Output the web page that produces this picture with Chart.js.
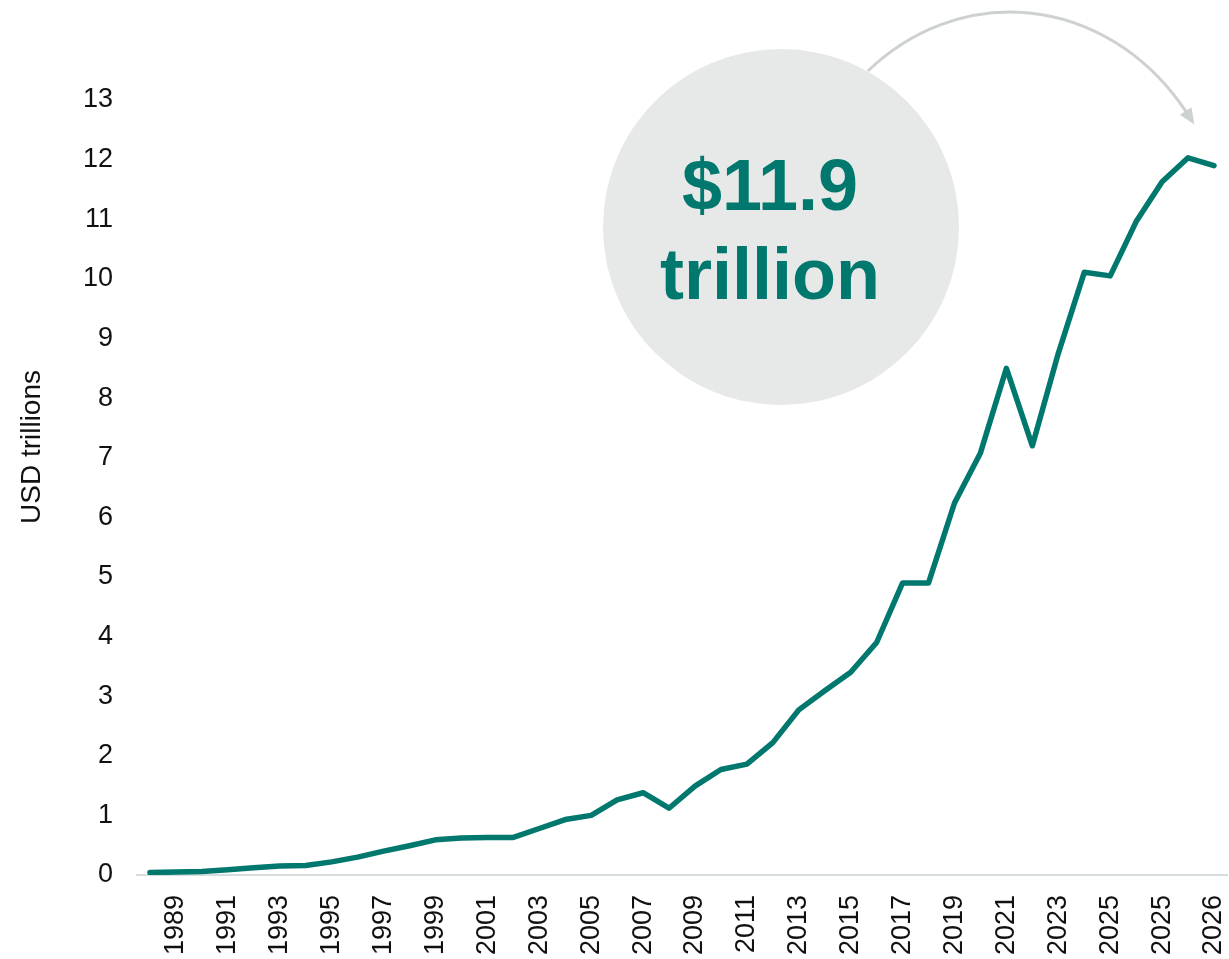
<!DOCTYPE html>
<html>
<head>
<meta charset="utf-8">
<script src="https://cdn.jsdelivr.net/npm/chart.js@4.4.1/dist/chart.umd.min.js"></script>
<style>
  html, body { margin: 0; padding: 0; background: #ffffff; }
  #wrap { width: 1229px; height: 959px; position: relative; }
</style>
</head>
<body>
<div id="wrap"><canvas id="chart"></canvas></div>
<script>
// Yearly categories; every other one is labelled on the axis
const categories = [
  '1988', '1989', '1990', '1991', '1992', '1993', '1994', '1995', '1996', '1997',
  '1998', '1999', '2000', '2001', '2002', '2003', '2004', '2005', '2006', '2007',
  '2008', '2009', '2010', '2011', '2012', '2013', '2014', '2015', '2016', '2017',
  '2018', '2019', '2020', '2021', '2022', '2023', '2024', '2025', '2025', '2025',
  '2026', '2026'
];

// Assets, USD trillions
const assets = [
  0.04, 0.05, 0.06, 0.09, 0.12, 0.15, 0.16, 0.22, 0.30, 0.40,
  0.49, 0.59, 0.62, 0.63, 0.63, 0.78, 0.93, 1.00, 1.26, 1.38,
  1.12, 1.49, 1.77, 1.86, 2.22, 2.77, 3.09, 3.40, 3.90, 4.90,
  4.90, 6.24, 7.08, 8.50, 7.20, 8.75, 10.11, 10.05, 10.96, 11.63,
  12.03, 11.90
];

const yTicks = [0, 1, 2, 3, 4, 5, 6, 7, 8, 9, 10, 11, 12, 13];

const TEAL = '#00786e';
const FONT = "'Liberation Sans', Arial, Helvetica, sans-serif";

// Grey bubble with the latest total and a curved arrow pointing at the last point
const calloutPlugin = {
  id: 'callout',
  beforeDatasetsDraw(chart) {
    const ctx = chart.ctx;
    const cx = 781, cy = 227, r = 178;
    const last = assets.length - 1;
    ctx.save();

    // elliptical arc arrow
    const ex = 1010, ey = 264, rx = 221, ry = 252;
    const a0 = -2.269, a1 = -0.64;
    ctx.strokeStyle = '#cdd1d1';
    ctx.fillStyle = '#cdd1d1';
    ctx.lineWidth = 3;
    ctx.beginPath();
    ctx.ellipse(ex, ey, rx, ry, 0, a0, a1, false);
    ctx.stroke();
    const endX = ex + rx * Math.cos(a1), endY = ey + ry * Math.sin(a1);
    const ang = Math.atan2(ry * Math.cos(a1), -rx * Math.sin(a1));
    const len = 16, half = 7;
    const tipX = endX + 13 * Math.cos(ang), tipY = endY + 13 * Math.sin(ang);
    ctx.beginPath();
    ctx.moveTo(tipX, tipY);
    ctx.lineTo(tipX - len * Math.cos(ang) + half * Math.sin(ang), tipY - len * Math.sin(ang) - half * Math.cos(ang));
    ctx.lineTo(tipX - len * Math.cos(ang) - half * Math.sin(ang), tipY - len * Math.sin(ang) + half * Math.cos(ang));
    ctx.closePath();
    ctx.fill();

    // bubble
    ctx.fillStyle = '#e7e9e9';
    ctx.beginPath();
    ctx.arc(cx, cy, r, 0, Math.PI * 2);
    ctx.fill();

    ctx.fillStyle = TEAL;
    ctx.font = 'bold 72px ' + FONT;
    ctx.textAlign = 'center';
    ctx.textBaseline = 'alphabetic';
    ctx.fillText('$' + assets[last].toFixed(1), 770, 210);
    ctx.fillText('trillion', 770, 299);
    ctx.restore();
  },
  afterDraw(chart) {
    // vertical axis caption
    const ctx = chart.ctx;
    ctx.save();
    ctx.translate(32, 447);
    ctx.rotate(-Math.PI / 2);
    ctx.fillStyle = '#111111';
    ctx.font = '28px ' + FONT;
    ctx.textAlign = 'center';
    ctx.textBaseline = 'middle';
    ctx.fillText('USD trillions', 0, 0);
    ctx.restore();
  }
};

new Chart(document.getElementById('chart'), {
  type: 'line',
  data: {
    labels: categories,
    datasets: [{
      data: assets,
      borderColor: TEAL,
      borderWidth: 5.5,
      borderCapStyle: 'round',
      borderJoinStyle: 'round',
      pointRadius: 0,
      tension: 0,
      fill: false
    }]
  },
  options: {
    responsive: true,
    maintainAspectRatio: false,
    animation: false,
    events: [],
    layout: { padding: { top: 100, right: 2, left: 0, bottom: 0 } },
    plugins: { legend: { display: false }, tooltip: { enabled: false }, title: { display: false } },
    scales: {
      x: {
        type: 'category',
        offset: true,
        grid: { display: false, drawTicks: false },
        border: { display: true, color: '#d6dddd', width: 2 },
        ticks: {
          autoSkip: false,
          minRotation: 90,
          maxRotation: 90,
          padding: 20,
          color: '#111111',
          font: { family: FONT, size: 27 },
          callback: (v, i) => (i % 2 === 1 ? categories[i] : '')
        },
        afterFit: (s) => { s.height = 84; s.paddingLeft = 0; s.paddingRight = 0; }
      },
      y: {
        min: 0,
        max: 13,
        grid: { display: false, drawTicks: false },
        border: { display: false },
        afterBuildTicks: (s) => { s.ticks = yTicks.map(v => ({ value: v })); },
        ticks: {
          padding: 24,
          color: '#111111',
          font: { family: FONT, size: 27 }
        },
        afterFit: (s) => { s.width = 137; s.paddingTop = 0; s.paddingBottom = 0; }
      }
    }
  },
  plugins: [calloutPlugin]
});
</script>
</body>
</html>
